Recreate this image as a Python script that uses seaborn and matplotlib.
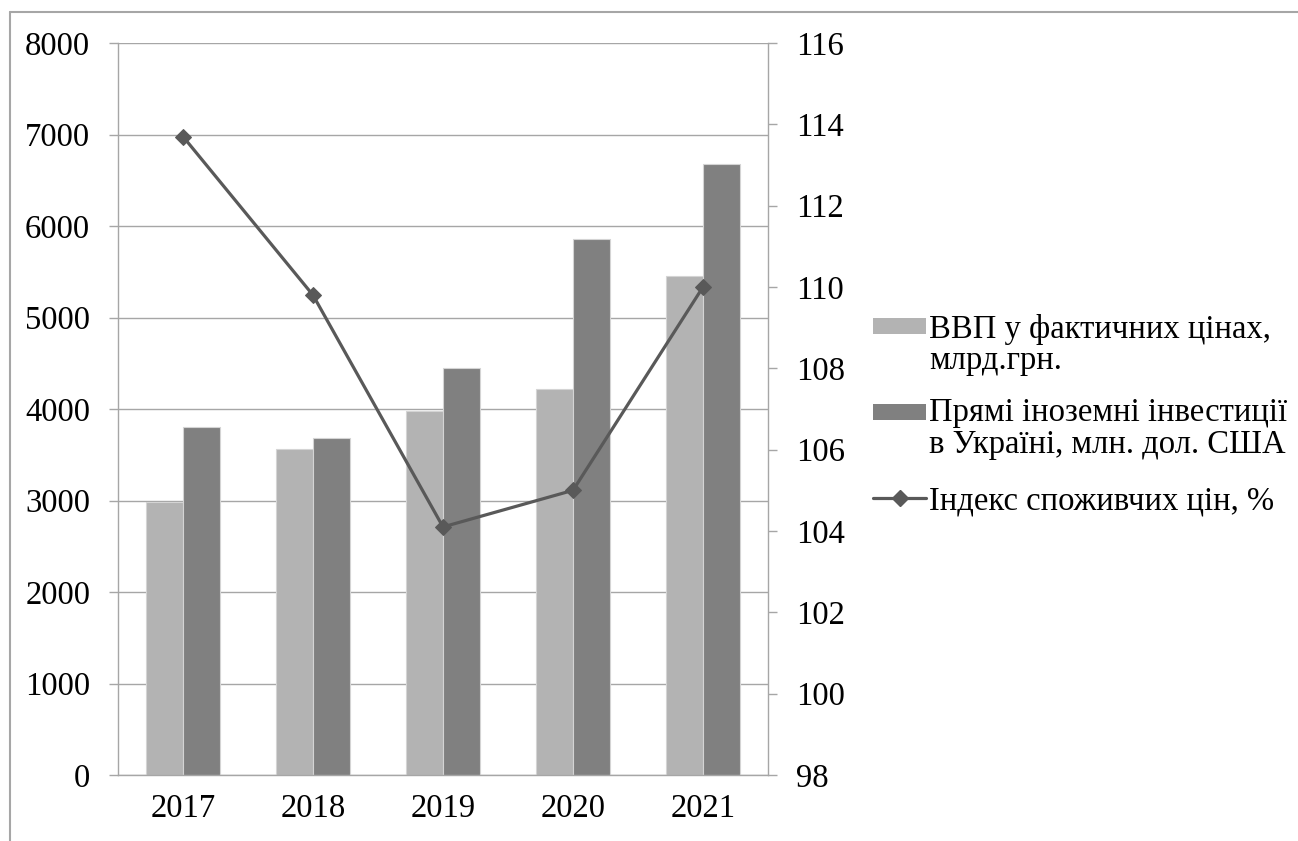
import numpy as np
import pandas as pd
import matplotlib
matplotlib.use("Agg")
import matplotlib.pyplot as plt
from matplotlib.lines import Line2D
from matplotlib.patches import Rectangle
import seaborn as sns

years = ["2017", "2018", "2019", "2020", "2021"]
gdp = [2983.9, 3560.6, 3977.2, 4222.0, 5450.8]
fdi = [3803, 3686, 4448, 5855, 6678]
cpi = [113.7, 109.8, 104.1, 105.0, 110.0]
series_names = ["ВВП у фактичних цінах,\nмлрд.грн.",
                "Прямі іноземні інвестиції\nв Україні, млн. дол. США",
                "Індекс споживчих цін, %"]
left_ticks = [0, 1000, 2000, 3000, 4000, 5000, 6000, 7000, 8000]
right_ticks = [98, 100, 102, 104, 106, 108, 110, 112, 114, 116]

sns.set_theme(style="white")
plt.rcParams["font.family"] = ["Liberation Serif", "DejaVu Serif"]

W, H = 1298, 841
fig = plt.figure(figsize=(W / 100, H / 100), dpi=100)
ax = fig.add_axes([118 / W, 1 - 775 / H, (768 - 118) / W, (775 - 43) / H])

df = pd.DataFrame({
    "year": years * 2,
    "value": gdp + fdi,
    "series": [series_names[0]] * 5 + [series_names[1]] * 5,
})
light, dark, linec = "#b3b3b3", "#808080", "#595959"
gridc = "#a6a6a6"
sns.barplot(data=df, x="year", y="value", hue="series",
            palette=[light, dark], width=0.57, gap=0, ax=ax,
            edgecolor="#d4d4d4", linewidth=0.8, legend=False, zorder=2)

ax.set_xlim(-0.5, 4.5)
ax.set_ylim(0, 8000)
ax.set_yticks(left_ticks)
ax.set_yticklabels([str(t) for t in left_ticks])
ax.set_xlabel("")
ax.set_ylabel("")
ax.grid(axis="y", color=gridc, linewidth=1.0)
ax.grid(axis="x", visible=False)
ax.set_axisbelow(True)
for s in ["top", "right"]:
    ax.spines[s].set_visible(False)
for s in ["left", "bottom"]:
    ax.spines[s].set_color(gridc)
    ax.spines[s].set_linewidth(1.0)

ax.set_xticks(range(5))
ax.set_xticklabels(years)
ax.set_xticks(np.arange(-0.5, 5.0, 1.0), minor=True)
ax.tick_params(axis="x", which="major", length=0, pad=13, labelsize=23.5, colors="black")
ax.tick_params(axis="x", which="minor", length=6.5, width=1.0, color=gridc, direction="out")
ax.tick_params(axis="y", length=6.5, width=1.0, color=gridc, direction="out",
               pad=13.5, labelsize=23.5, labelcolor="black", left=True)

ax2 = ax.twinx()
sns.lineplot(x=np.arange(5), y=cpi, ax=ax2, color=linec, linewidth=2.3,
             marker="D", markersize=8.5, markeredgecolor=linec, zorder=5)
ax2.set_ylim(98, 116)
ax2.set_yticks(right_ticks)
ax2.set_yticklabels([str(t) for t in right_ticks])
ax2.grid(False)
ax2.set_ylabel("")
for s in ["top", "left", "bottom"]:
    ax2.spines[s].set_visible(False)
ax2.spines["right"].set_color(gridc)
ax2.spines["right"].set_linewidth(1.0)
ax2.tick_params(axis="y", length=6.5, width=1.0, color=gridc, direction="out",
                pad=14, labelsize=23.5, labelcolor="black", right=True)

# manual legend
def fx(px):
    return px / W

def fy(py):
    return 1 - py / H

fs = 23.5
fig.patches.append(Rectangle((fx(873), fy(334)), fx(926) - fx(873), 16 / H,
                             transform=fig.transFigure, facecolor=light, edgecolor="none"))
fig.patches.append(Rectangle((fx(873), fy(420)), fx(926) - fx(873), 16 / H,
                             transform=fig.transFigure, facecolor=dark, edgecolor="none"))
fig.lines.append(Line2D([fx(873), fx(926)], [fy(498), fy(498)], transform=fig.transFigure,
                        color=linec, linewidth=2.3))
fig.lines.append(Line2D([fx(899.5)], [fy(498)], transform=fig.transFigure,
                        color=linec, marker="D", markersize=8.5, linestyle="none"))
leg_lines = [(338, "ВВП у фактичних цінах,"), (369, "млрд.грн."),
             (421, "Прямі іноземні інвестиції"), (453, "в Україні, млн. дол. США"),
             (510, "Індекс споживчих цін, %")]
for py, txt in leg_lines:
    fig.text(fx(929), fy(py), txt, fontsize=fs, va="baseline", ha="left", color="black")

# outer frame (left and top edges)
fig.lines.append(Line2D([fx(9.5), fx(9.5)], [0, fy(12)], transform=fig.transFigure,
                        color=gridc, linewidth=1.5))
fig.lines.append(Line2D([fx(9.5), 1], [fy(12), fy(12)], transform=fig.transFigure,
                        color=gridc, linewidth=1.5))

fig.savefig("out.png", dpi=100)
